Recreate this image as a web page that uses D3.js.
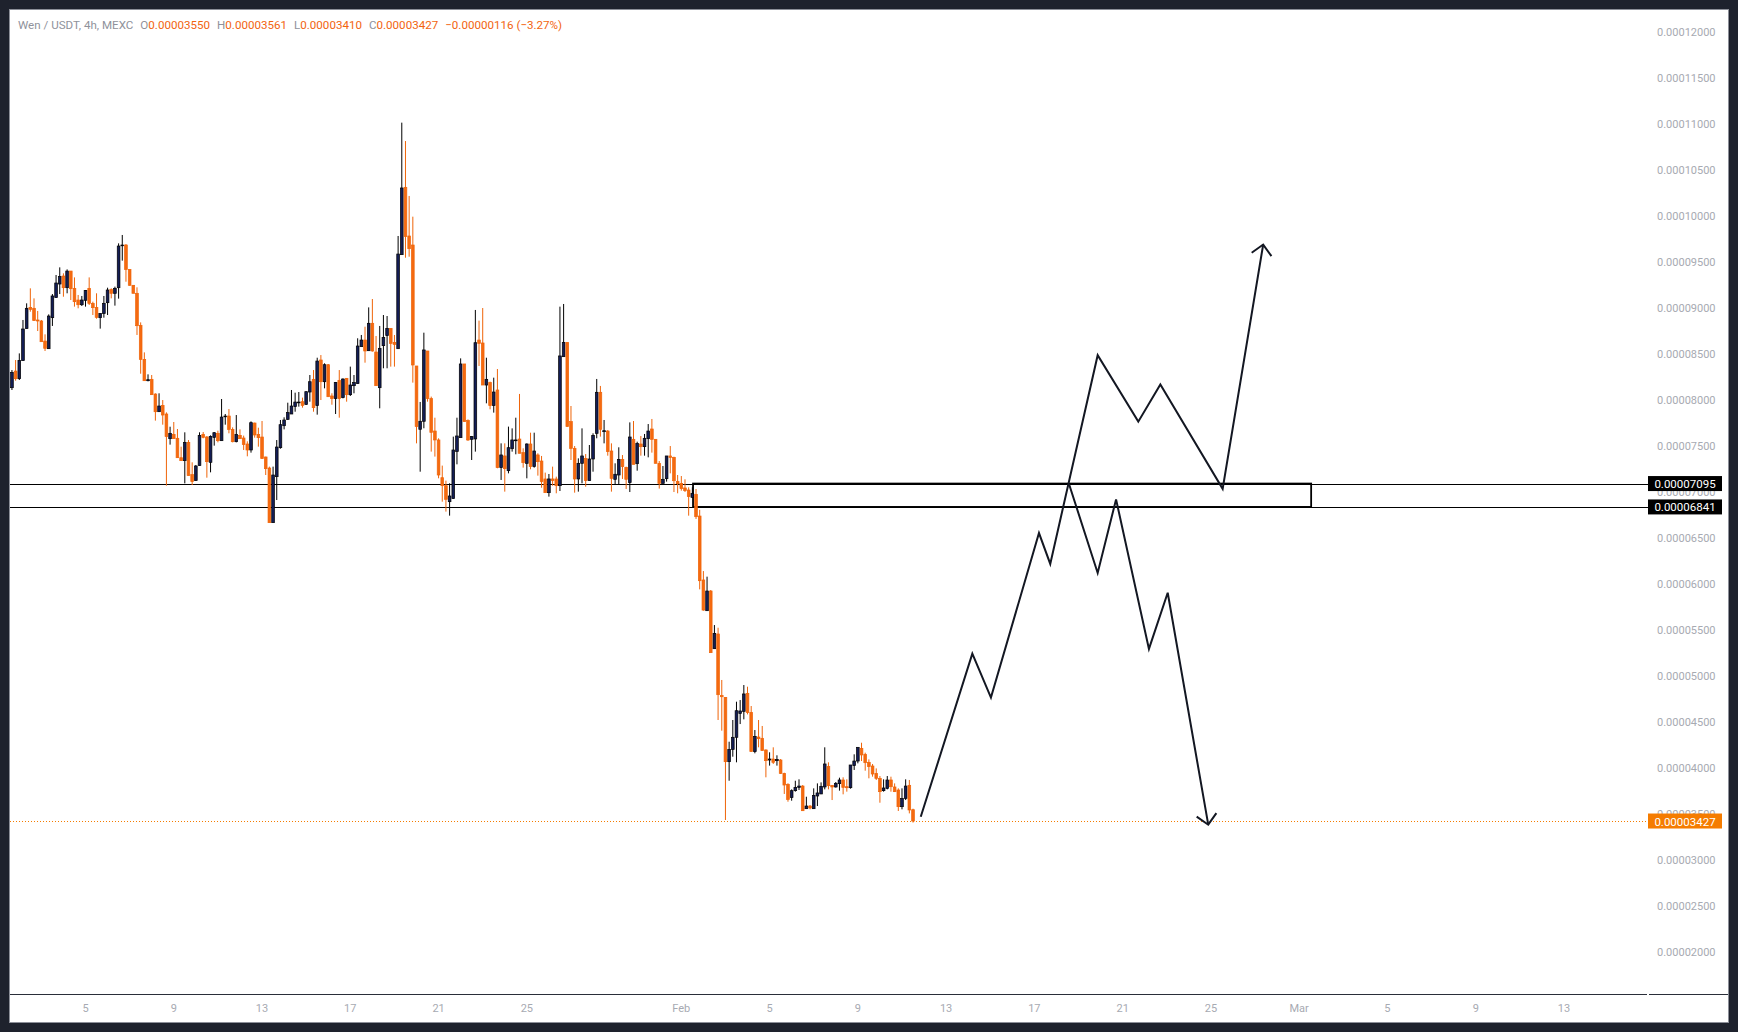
<!DOCTYPE html>
<html><head><meta charset="utf-8">
<script src="https://cdn.jsdelivr.net/npm/d3@7"></script>
<style>
html,body{margin:0;padding:0;background:#1e222d;overflow:hidden;}
svg{display:block;}
text{font-family:Roboto,"Noto Sans",sans-serif;}
</style></head><body>
<svg id="c" width="1738" height="1032"></svg>
<script>
// prices are stored in units of 1e-8 USDT
const UNIT = 1e-8;
const firstBarTime = Date.UTC(2025, 0, 1, 16);
const barMs = 4 * 3600 * 1000;

const opens = [8137,8318,8235,8431,8779,9010,9000,8873,8862,8644,8561,8898,9116,9264,9351,9224,9405,9217,9090,9039,
9087,9217,9054,9010,8898,8942,9061,9203,9163,9224,9681,9688,9423,9250,9163,8815,8445,8213,8228,8068,
7876,7945,7851,7583,7630,7587,7376,7344,7543,7192,7127,7290,7630,7601,7326,7597,7641,7561,7822,7829,
7684,7550,7619,7590,7525,7460,7753,7630,7601,7384,7264,6670,7170,7485,7724,7793,7851,7931,7974,7985,
7956,8090,8228,7942,8438,8202,8387,8047,8018,8217,8029,8239,8061,8159,8181,8583,8655,8539,8837,8525,
8137,8594,8703,8782,8630,8561,9583,10315,9786,9688,8373,7685,7772,8536,8018,7666,7569,7159,7072,6898,
6931,7445,7594,8395,7779,7576,7580,8655,8623,8166,8192,7942,8112,7268,7395,7235,7474,7561,7579,7431,
7315,7525,7279,7406,7340,7145,6996,7145,7145,7072,8474,8630,7768,7478,7145,7315,7369,7127,7362,7641,
8087,7659,7666,7449,7141,7188,7358,7271,7105,7576,7311,7525,7496,7583,7688,7576,7315,7097,7148,7395,
7380,7116,7097,7047,7025,6945,6978,6742,6047,5713,5927,5300,5460,4790,4771,4072,4206,4337,4597,4619,
4815,4608,4181,4340,4326,4199,4090,4101,4083,4090,3945,3826,3681,3757,3793,3807,3561,3590,3561,3699,
3721,3797,4018,3815,3797,3833,3873,3800,3789,4029,4079,4217,4152,4065,4025,3945,3891,3757,3782,3873,
3797,3764,3583,3673,3815,3550];

const highs = [8329,8438,8510,8873,9054,9217,9108,8971,8873,8717,8934,9155,9362,9445,9380,9423,9405,9336,9145,9134,
9199,9336,9072,9163,8945,9134,9224,9217,9235,9706,9797,9699,9423,9253,9228,8847,8521,8282,8275,8076,
8076,8003,7869,7713,7764,7688,7496,7652,7568,7326,7297,7652,7655,7612,7619,7655,7670,8014,7851,7905,
7706,7840,7684,7616,7554,7771,7757,7702,7775,7387,7279,7279,7568,7786,7815,7974,8112,8083,8090,8029,
8097,8275,8329,8463,8492,8402,8394,8076,8199,8329,8239,8242,8366,8275,8674,8710,8800,9010,9101,8699,
8808,8927,8916,8782,8710,9786,11018,10818,10221,9996,8373,7982,8735,8536,8040,7811,7587,7290,7127,7098,
7605,7811,8456,8395,7793,7612,8982,8866,9003,8463,8203,8246,8340,7532,7532,7714,7695,7811,8069,7478,
7532,7648,7648,7424,7395,7214,7199,7279,7170,9018,9047,8630,7938,7503,7369,7695,7416,7514,7641,8232,
8156,7786,7677,7532,7315,7489,7405,7279,7760,7775,7550,7612,7634,7742,7797,7576,7340,7286,7395,7503,
7387,7188,7177,7141,7054,7054,7036,6810,6144,6083,5938,5557,5528,4960,4771,4289,4525,4724,4742,4905,
4887,4677,4416,4525,4460,4206,4174,4228,4141,4101,3952,3837,3771,3865,3880,3818,3691,3601,3782,3836,
3847,4228,4065,3818,3851,3898,3902,3880,4036,4152,4228,4278,4170,4097,4047,3999,3916,3880,3916,3909,
3836,3782,3782,3880,3873,3561];

const lows = [8112,8213,8221,8431,8779,8963,8866,8753,8637,8536,8561,8808,9116,9155,9126,9163,9090,9018,9000,9025,
9018,9036,8927,8887,8779,8898,8927,9108,9029,9105,9518,9289,9246,9163,8710,8289,8213,8206,8058,7779,
7876,7735,7072,7518,7583,7376,7344,7097,7181,7079,7127,7290,7587,7159,7217,7507,7543,7561,7735,7641,
7543,7543,7583,7460,7391,7431,7594,7496,7366,7188,6670,6670,6916,7474,7684,7786,7851,7876,7931,7920,
7949,7985,7876,7844,8003,8130,8039,7952,7851,7811,8021,7985,8047,8076,8181,8583,8409,8539,8529,8159,
7913,8348,8348,8366,8366,8561,9583,9550,9561,8192,7532,7224,7696,7985,7442,7388,7152,6898,6790,6746,
6931,7304,7594,7768,7558,7351,7442,8373,8166,7967,7902,7866,7261,7134,7007,7206,7442,7413,7424,7268,
7152,7250,7268,7181,7050,6996,6953,7072,6989,7014,8474,7714,7351,6996,7007,7098,7061,7127,7224,7587,
7605,7532,7398,7007,7079,7090,7145,7036,7003,7304,7235,7398,7398,7380,7431,7315,7040,7097,7116,7206,
7003,6989,7018,7003,6746,6945,6710,5945,5713,5713,5257,5300,4525,4409,3438,3865,4126,4065,4481,4532,
4586,4181,4163,4228,4192,3902,4029,4047,4029,3938,3721,3637,3648,3746,3764,3539,3561,3554,3561,3590,
3721,3771,3771,3655,3790,3757,3717,3746,3779,3982,4054,4079,3974,3891,3909,3873,3626,3746,3771,3746,
3742,3536,3554,3655,3510,3410];

const closes = [8304,8235,8434,8775,9000,8989,8866,8862,8637,8565,8916,9134,9275,9347,9224,9405,9213,9072,9039,9090,
9195,9054,9007,8902,8945,9054,9199,9163,9217,9677,9688,9423,9250,9163,8811,8445,8213,8224,8061,7876,
7938,7840,7605,7641,7583,7376,7344,7543,7181,7116,7286,7619,7597,7333,7608,7648,7561,7818,7829,7684,
7550,7630,7583,7518,7460,7757,7623,7594,7366,7257,6670,7188,7492,7735,7786,7866,7938,7981,7981,7945,
8094,8202,7920,8427,8202,8387,8039,8018,8195,8018,8231,8061,8166,8192,8590,8655,8536,8837,8536,8159,
8565,8684,8782,8619,8608,9590,10308,9779,9648,8384,7714,7772,8547,8018,7652,7569,7188,7072,6924,6960,
7460,7612,8395,7768,7569,7605,8626,8619,8166,8228,7942,8090,7268,7406,7257,7485,7569,7569,7424,7322,
7525,7279,7449,7333,7116,6996,7145,7127,7072,8482,8630,7714,7478,7145,7315,7395,7127,7362,7619,8087,
7685,7670,7442,7152,7196,7358,7279,7141,7601,7304,7532,7496,7587,7666,7576,7315,7097,7141,7395,7377,
7126,7094,7040,7018,6953,6989,6735,6039,5720,5927,5257,5467,4800,4778,4072,4206,4337,4626,4623,4808,
4605,4181,4347,4322,4192,4083,4101,4065,4097,3945,3818,3662,3757,3793,3807,3539,3590,3568,3706,3732,
3804,4047,3811,3797,3836,3873,3793,3789,4036,4079,4228,4145,4061,4018,3938,3891,3746,3786,3873,3800,
3746,3583,3673,3807,3547,3427];

const priceTicks = d3.range(2000, 12001, 500);
const timeTickDates = ["2025-01-05","2025-01-09","2025-01-13","2025-01-17","2025-01-21","2025-01-25",
  "2025-02-01","2025-02-05","2025-02-09","2025-02-13","2025-02-17","2025-02-21","2025-02-25",
  "2025-03-01","2025-03-05","2025-03-09","2025-03-13"];
const timeTickLabels = ["5","9","13","17","21","25","Feb","5","9","13","17","21","25","Mar","5","9","13"];

const levelPrices = [7095, 6841];
const lastPrice = 3427;
const zoneTimes = ["2025-02-01T12:45Z", "2025-03-01T13:00Z"];
const zonePrices = [7095, 6841];

const bullPath = [["2025-02-11T20:24Z",3473],["2025-02-14T04:30Z",5247],["2025-02-15T00:45Z",4769],
  ["2025-02-17T05:00Z",6557],["2025-02-17T17:15Z",6222],["2025-02-19T20:50Z",8490],
  ["2025-02-21T17:00Z",7768],["2025-02-22T17:00Z",8173],["2025-02-25T12:45Z",7038],
  ["2025-02-27T08:50Z",9693]];
const bearPath = [["2025-02-18T13:40Z",7090],["2025-02-19T20:50Z",6123],["2025-02-20T16:50Z",6923],
  ["2025-02-22T04:35Z",5298],["2025-02-23T01:00Z",5908],["2025-02-24T21:05Z",3387]];

const header = {
  title: "Wen / USDT, 4h, MEXC",
  fields: [["O","0.00003550"],["H","0.00003561"],["L","0.00003410"],["C","0.00003427"]],
  change: "\u22120.00000116 (\u22123.27%)"
};

// ---------- drawing ----------
const frame = {l: 10, t: 10, r: 1728, b: 1022};
const plot = {l: 10, t: 10, r: 1648, b: 994};
const UP = "#131d55", UP_LINE = "#000000", DOWN = "#f56a10", DOWN_LINE = "#ef6409";
const ORANGE_TXT = "#f2640f", GRAY_TXT = "#8f929b", AXIS_TXT = "#a7aab2";

const svg = d3.select("#c");
const x = d3.scaleUtc().domain([new Date(Date.UTC(2025,0,5)), new Date(Date.UTC(2025,2,13))]).range([85.5, 1564]);
const y = d3.scaleLinear().domain([2000, 12000]).range([952.3, 32.3]);
const fmt = v => (v * UNIT).toFixed(8);

svg.append("rect").attr("x", frame.l - 0.5).attr("y", frame.t - 0.5)
  .attr("width", frame.r - frame.l + 1).attr("height", frame.b - frame.t + 1)
  .attr("fill", "#ffffff").attr("stroke", "#8c8f98").attr("stroke-width", 1);

svg.append("defs").append("clipPath").attr("id", "plotclip").append("rect")
  .attr("x", plot.l).attr("y", plot.t).attr("width", plot.r - plot.l).attr("height", plot.b - plot.t);
const g = svg.append("g").attr("clip-path", "url(#plotclip)");

// price line (dotted)
g.append("line").attr("x1", plot.l).attr("x2", plot.r)
  .attr("y1", Math.round(y(lastPrice)) + 0.5).attr("y2", Math.round(y(lastPrice)) + 0.5)
  .attr("stroke", "#f57c00").attr("stroke-width", 1).attr("stroke-dasharray", "1,2");

// horizontal levels
g.selectAll("line.lvl").data(levelPrices).join("line").attr("class", "lvl")
  .attr("x1", plot.l).attr("x2", plot.r)
  .attr("y1", d => Math.round(y(d)) + 0.5).attr("y2", d => Math.round(y(d)) + 0.5)
  .attr("stroke", "#000").attr("stroke-width", 1);

// zone rectangle
const zx0 = x(new Date(zoneTimes[0])), zx1 = x(new Date(zoneTimes[1]));
g.append("rect").attr("x", zx0).attr("y", y(zonePrices[0]))
  .attr("width", zx1 - zx0).attr("height", y(zonePrices[1]) - y(zonePrices[0]))
  .attr("fill", "none").attr("stroke", "#000").attr("stroke-width", 1.8);

// candles
const bars = opens.map((o, i) => ({t: new Date(firstBarTime + i * barMs), o, h: highs[i], l: lows[i], c: closes[i]}));
const bw = 2.7;
const cg = g.append("g");
cg.selectAll("line.wick").data(bars).join("line").attr("class", "wick")
  .attr("x1", d => x(d.t)).attr("x2", d => x(d.t))
  .attr("y1", d => y(d.h)).attr("y2", d => y(d.l))
  .attr("stroke", d => d.c >= d.o ? UP_LINE : DOWN_LINE).attr("stroke-width", 1);
cg.selectAll("rect.body").data(bars).join("rect").attr("class", "body")
  .attr("x", d => x(d.t) - bw / 2)
  .attr("y", d => y(Math.max(d.o, d.c)))
  .attr("width", bw)
  .attr("height", d => Math.max(0.8, Math.abs(y(d.o) - y(d.c))))
  .attr("fill", d => d.c >= d.o ? UP : DOWN)
  .attr("stroke", d => d.c >= d.o ? UP_LINE : DOWN_LINE).attr("stroke-width", 0.7);

// projection paths
const defs = svg.select("defs");
defs.append("marker").attr("id", "arrow").attr("viewBox", "-12 -12 14 24")
  .attr("refX", 0).attr("refY", 0).attr("markerWidth", 14).attr("markerHeight", 24)
  .attr("markerUnits", "userSpaceOnUse").attr("orient", "auto")
  .append("path").attr("d", "M-10,-10L0,0L-10,10").attr("fill", "none")
  .attr("stroke", "#131722").attr("stroke-width", 2);
const line = d3.line().x(d => x(new Date(d[0]))).y(d => y(d[1]));
[bullPath, bearPath].forEach(p => {
  g.append("path").attr("d", line(p)).attr("fill", "none").attr("stroke", "#131722")
    .attr("stroke-width", 2).attr("stroke-linejoin", "miter").attr("marker-end", "url(#arrow)");
});

// bottom axis line
svg.append("line").attr("x1", frame.l).attr("x2", plot.r - 1).attr("y1", plot.b + 0.5).attr("y2", plot.b + 0.5)
  .attr("stroke", "#2a2e39").attr("stroke-width", 1);
svg.append("line").attr("x1", plot.r + 1).attr("x2", frame.r).attr("y1", plot.b + 0.5).attr("y2", plot.b + 0.5)
  .attr("stroke", "#2a2e39").attr("stroke-width", 1);

// time labels
svg.selectAll("text.tt").data(timeTickDates).join("text").attr("class", "tt")
  .attr("x", d => x(new Date(d + "T00:00Z"))).attr("y", 1008)
  .attr("text-anchor", "middle").attr("dominant-baseline", "central")
  .attr("font-size", 11).attr("fill", AXIS_TXT)
  .text((d, i) => timeTickLabels[i]);

// price labels
svg.selectAll("text.pt").data(priceTicks).join("text").attr("class", "pt")
  .attr("x", 1657).attr("y", d => y(d))
  .attr("dominant-baseline", "central").attr("font-size", 11).attr("fill", AXIS_TXT)
  .text(d => fmt(d));

// price badges
const badges = levelPrices.map(p => ({p, bg: "#000000"})).concat([{p: lastPrice, bg: "#f57c00"}]);
const bg = svg.selectAll("g.badge").data(badges).join("g").attr("class", "badge");
bg.append("rect").attr("x", 1648).attr("y", d => y(d.p) - 7.5).attr("width", 74).attr("height", 15)
  .attr("fill", d => d.bg);
bg.append("text").attr("x", 1685).attr("y", d => y(d.p) + 0.5).attr("text-anchor", "middle")
  .attr("dominant-baseline", "central").attr("font-size", 11.5).attr("fill", "#fff")
  .text(d => fmt(d.p));

// header
const ht = svg.append("text").attr("x", 18).attr("y", 24.5).attr("dominant-baseline", "central")
  .attr("font-size", 11.6).attr("xml:space", "preserve");
ht.append("tspan").attr("fill", GRAY_TXT).text(header.title);
header.fields.forEach(([k, v], i) => {
  ht.append("tspan").attr("fill", GRAY_TXT).attr("dx", 7).text(k);
  ht.append("tspan").attr("fill", ORANGE_TXT).text(v);
});
ht.append("tspan").attr("fill", ORANGE_TXT).attr("dx", 7).text(header.change);
</script>
</body></html>
